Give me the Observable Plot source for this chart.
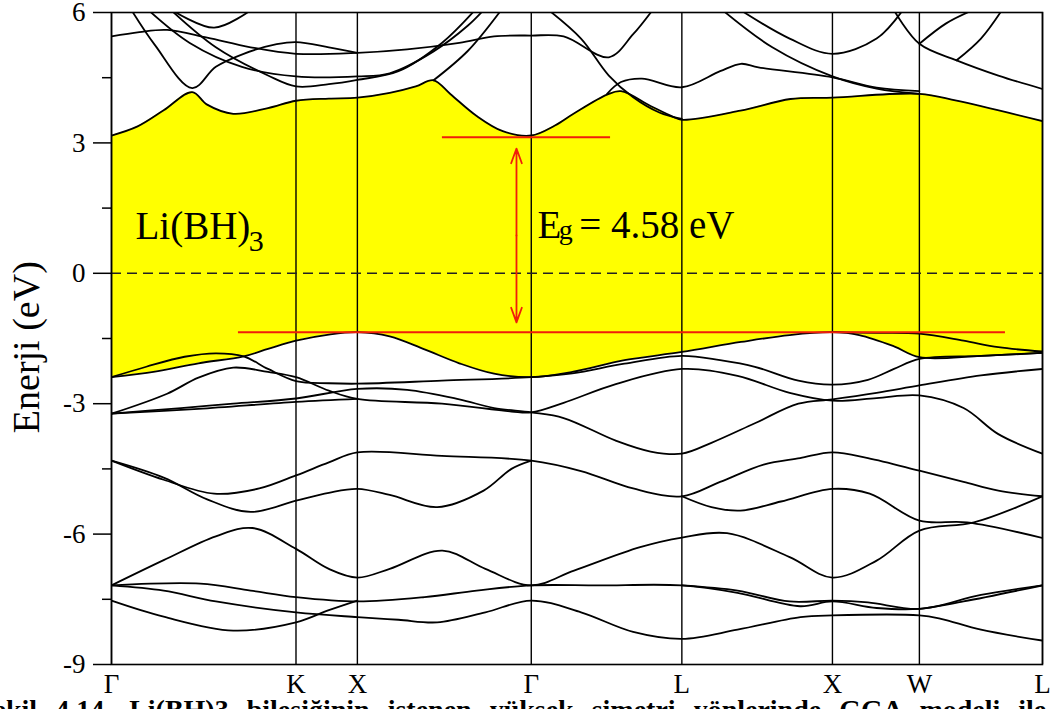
<!DOCTYPE html>
<html><head><meta charset="utf-8">
<script src="https://cdn.jsdelivr.net/npm/d3@7"></script>
<script src="https://cdn.jsdelivr.net/npm/@observablehq/plot@0.6"></script>
<style>
html,body{margin:0;padding:0;background:#fff;overflow:hidden;width:1058px;height:709px}
#chart{position:relative;width:1058px;height:709px}
#chart svg, #chart svg text{font-family:"Liberation Serif","Times New Roman",serif !important}
#caption{position:absolute;left:-22px;top:696px;white-space:nowrap;font:bold 28px "Liberation Serif",serif;line-height:1;word-spacing:11px}
</style></head><body><div id="chart"></div>
<script>
// high-symmetry points along the k path (units of 2π/a)
const kPoints = [0, 1.061, 1.414, 2.414, 3.280, 4.146, 4.646, 5.354];
const kLabels = ["Γ","K","X","Γ","L","X","W","L"];
const yTicks = [-9, -6, -3, 0, 3, 6];
const yMinor = [-7.5, -4.5, -1.5, 1.5, 4.5];

// valence bands [k, E(eV)]
const vb1 = [[0,-2.39],[0.25,-2.26],[0.5,-2.07],[0.76,-1.91],[0.9,-1.74],[1.061,-1.55],[1.25,-1.41],[1.414,-1.355],[1.6,-1.45],[1.8,-1.75],[2.0,-2.07],[2.2,-2.31],[2.414,-2.39],[2.65,-2.27],[2.95,-2.0],[3.28,-1.81],[3.62,-1.58],[3.9,-1.42],[4.146,-1.355],[4.3,-1.42],[4.5,-1.68],[4.646,-1.93],[5.0,-1.9],[5.354,-1.83]];
const vb2 = [[0,-2.39],[0.2,-2.15],[0.42,-1.92],[0.6,-1.84],[0.76,-1.91],[0.9,-2.2],[1.061,-2.48],[1.25,-2.53],[1.414,-2.54],[1.9,-2.47],[2.414,-2.39],[2.65,-2.3],[2.95,-2.08],[3.28,-1.9],[3.5,-2.0],[3.7,-2.15],[3.95,-2.47],[4.146,-2.56],[4.35,-2.45],[4.5,-2.2],[4.646,-1.97],[5.0,-1.9],[5.354,-1.83]];
const vb3 = [[4.146,-1.355],[4.4,-1.37],[4.646,-1.39],[4.9,-1.55],[5.1,-1.7],[5.354,-1.8]];
const vb4 = [[0,-3.23],[0.32,-2.77],[0.5,-2.4],[0.7,-2.17],[0.9,-2.27],[1.061,-2.39],[1.25,-2.7],[1.414,-2.89],[1.9,-3.0],[2.3,-3.18],[2.414,-3.2],[2.6,-2.98],[2.9,-2.55],[3.28,-2.2],[3.6,-2.36],[3.9,-2.75],[4.146,-2.93],[4.4,-2.87],[4.646,-2.81],[4.9,-3.1],[5.1,-3.7],[5.354,-4.15]];
const vb5 = [[0,-3.23],[0.4,-3.1],[0.7,-3.0],[1.061,-2.88],[1.414,-2.66],[1.7,-2.68],[2.0,-2.9],[2.2,-3.1],[2.414,-3.2],[2.6,-3.33],[2.9,-3.85],[3.1,-4.1],[3.28,-4.15],[3.45,-3.9],[3.7,-3.45],[3.95,-3.0],[4.146,-2.9],[4.4,-2.75],[4.646,-2.58],[5.0,-2.35],[5.354,-2.2]];
const vb6 = [[0,-3.23],[0.5,-3.12],[1.061,-2.96],[1.414,-2.89]];
const vb7 = [[0,-4.31],[0.3,-4.75],[0.59,-5.07],[0.85,-4.95],[1.061,-4.65],[1.25,-4.35],[1.414,-4.12],[1.9,-4.2],[2.414,-4.31],[2.7,-4.55],[3.0,-4.95],[3.28,-5.13],[3.5,-4.8],[3.75,-4.4],[3.96,-4.25],[4.146,-4.12],[4.35,-4.25],[4.646,-4.54],[4.9,-4.8],[5.1,-5.0],[5.354,-5.13]];
const vb8 = [[0,-4.31],[0.3,-4.7],[0.55,-5.2],[0.8,-5.49],[1.061,-5.23],[1.25,-5.05],[1.414,-4.96],[1.6,-5.1],[1.873,-5.38],[2.14,-5.0],[2.3,-4.5],[2.414,-4.31]];
const vb8b = [[3.28,-5.13],[3.45,-5.38],[3.617,-5.46],[3.85,-5.25],[4.146,-4.96],[4.36,-5.07],[4.646,-5.69],[4.92,-5.73],[5.354,-6.09]];
const vb9 = [[0,-7.18],[0.3,-6.6],[0.6,-6.05],[0.81,-5.86],[1.061,-6.34],[1.25,-6.8],[1.414,-7.0],[1.6,-6.8],[1.903,-6.38],[2.15,-6.8],[2.414,-7.18],[2.66,-6.84],[3.04,-6.3],[3.28,-6.08],[3.54,-5.98],[3.9,-6.53],[4.146,-7.0],[4.4,-6.61],[4.646,-5.92],[4.96,-5.73],[5.354,-5.13]];
const vb10 = [[0,-7.18],[0.51,-7.14],[0.8,-7.3],[1.061,-7.45],[1.414,-7.55],[1.8,-7.45],[2.1,-7.3],[2.414,-7.18],[2.8,-7.18],[3.28,-7.18],[3.6,-7.35],[3.96,-7.66],[4.146,-7.55],[4.4,-7.7],[4.646,-7.72],[4.9,-7.55],[5.354,-7.18]];
const vb11 = [[0,-7.18],[0.3,-7.3],[0.6,-7.55],[1.061,-7.8],[1.414,-7.91],[1.65,-7.97],[1.873,-8.03],[2.15,-7.8],[2.414,-7.53],[2.7,-7.8],[3.0,-8.25],[3.28,-8.41],[3.6,-8.2],[3.962,-7.91],[4.146,-7.87],[4.646,-7.87],[4.77,-7.95],[5.0,-8.2],[5.354,-8.45]];
const vb12 = [[0,-7.53],[0.3,-7.9],[0.7,-8.22],[1.061,-8.03],[1.25,-7.75],[1.414,-7.53]];
const vb13 = [[3.28,-7.18],[3.6,-7.3],[3.9,-7.55],[4.146,-7.53],[4.35,-7.57],[4.646,-7.72],[5.0,-7.4],[5.354,-7.18]];

// conduction bands [k, E(eV)]
const cb1 = [[0,3.17],[0.15,3.38],[0.3,3.75],[0.464,4.17],[0.55,3.88],[0.70,3.67],[0.9,3.8],[1.061,3.97],[1.25,4.02],[1.414,4.04],[1.6,4.15],[1.75,4.3],[1.852,4.44],[1.95,4.12],[2.1,3.62],[2.25,3.27],[2.414,3.17],[2.55,3.4],[2.657,3.67],[2.85,4.11],[2.93,4.19],[3.1,3.85],[3.23,3.6],[3.28,3.53],[3.617,3.74],[3.905,4.01],[4.146,4.04],[4.646,4.13],[4.86,3.97],[5.354,3.5]];
const cb2 = [[0.1,6.15],[0.25,5.25],[0.464,4.26],[0.6,4.75],[0.76,5.05],[0.95,5.27],[1.061,5.32],[1.25,5.2],[1.414,5.07]];
const cb3 = [[0,5.45],[0.16,5.55],[0.32,5.6],[0.55,5.42],[0.8,5.2],[1.061,5.05],[1.414,5.07],[1.7,5.15],[2.0,5.3],[2.2,5.45],[2.414,5.47],[2.6,5.45],[2.86,4.97],[3.0,5.5],[3.12,6.1]];
const cb4 = [[0.2,6.1],[0.45,5.3],[0.75,4.75],[1.061,4.53],[1.414,4.53],[1.6,4.6],[1.85,5.1],[2.05,5.7],[2.15,6.1]];
const cb5 = [[0.33,6.1],[0.6,5.2],[0.9,4.55],[1.061,4.30],[1.25,4.35],[1.414,4.45],[1.65,4.65],[1.9,5.3],[2.1,6.1]];
const cb6 = [[1.852,4.44],[2.05,5.12],[2.24,6.05]];
const cb7 = [[0.35,6.05],[0.59,5.65],[0.8,6.05]];
const cb8 = [[2.5,6.1],[2.7,5.4],[2.86,4.55],[3.0,4.05],[3.15,3.7],[3.28,3.55]];
const cb9 = [[2.85,4.13],[2.93,4.4],[3.05,4.48],[3.28,4.28],[3.5,4.65],[3.62,4.82],[3.72,4.74],[4.146,4.51],[4.4,4.27],[4.646,4.19]];
const cb10 = [[3.5,6.1],[3.8,5.2],[4.146,4.53],[4.4,4.25],[4.646,4.13]];
const cb11 = [[3.6,6.1],[3.9,5.4],[4.146,5.05],[4.4,5.4],[4.55,6.05]];
const cb12 = [[4.5,6.05],[4.646,5.28],[4.86,4.9],[5.1,4.55],[5.354,4.24]];
const cb13 = [[4.86,4.9],[5.0,5.4],[5.12,6.05]];
const cb14 = [[4.646,5.28],[4.8,5.75],[4.95,6.05]];

const bands = [vb1,vb2,vb3,vb4,vb5,vb6,vb7,vb8,vb8b,vb9,vb10,vb11,vb12,vb13,cb1,cb2,cb3,cb4,cb5,cb6,cb7,cb8,cb9,cb10,cb11,cb12,cb13,cb14];

// gap annotation
const cbmLevel = 3.13, vbmLevel = -1.355;
const cbmSpan = [1.903, 2.87], vbmSpan = [0.73, 5.141];
const gapArrowK = 2.329, gapArrowEnds = [2.87, -1.13];
const materialName = "Li(BH)", materialSub = "3";
const gapSymbol = "E", gapSub = "g", gapValue = "= 4.58 eV";
const yTitle = "Enerji (eV)";
const captionText = "Şekil 4.14. Li(BH)3 bileşiğinin istenen yüksek simetri yönlerinde GGA modeli ile hesaplanan elektronik bant yapısı";

const rows = b => b.map(([k, e]) => ({k, e}));
const bandRows = bands.flatMap((b, i) => b.map(([k, e]) => ({k, e, band: i})));
const labelOf = new Map(kPoints.map((k, i) => [k, kLabels[i]]));
const red = "#f01e0a";
const serif = '"Liberation Serif", "Times New Roman", serif';
const mid = (gapArrowEnds[0] + gapArrowEnds[1]) / 2;

const chart = Plot.plot({
  width: 1058, height: 694,
  marginLeft: 111, marginRight: 16, marginTop: 12, marginBottom: 30,
  style: {fontFamily: serif, fontSize: "27px", background: "white", color: "black", overflow: "visible"},
  x: {domain: [0, 5.354]},
  y: {domain: [-9, 6]},
  marks: [
    Plot.areaY(rows(cb1), {x: "k", y1: () => -9, y2: "e", fill: "#ffff00", curve: "catmull-rom"}),
    Plot.areaY(rows(vb1), {x: "k", y1: () => -9, y2: "e", fill: "white", curve: "catmull-rom"}),
    Plot.ruleX(kPoints, {stroke: "black", strokeWidth: 1.4}),
    Plot.ruleY([0], {stroke: "#222", strokeWidth: 1.6, strokeDasharray: "10,6"}),
    Plot.line(bandRows, {x: "k", y: "e", z: "band", stroke: "black", strokeWidth: 1.8, curve: "catmull-rom", clip: true}),
    Plot.ruleY([cbmLevel], {x1: cbmSpan[0], x2: cbmSpan[1], stroke: red, strokeWidth: 2}),
    Plot.ruleY([vbmLevel], {x1: vbmSpan[0], x2: vbmSpan[1], stroke: red, strokeWidth: 2}),
    Plot.arrow([{y1: mid, y2: gapArrowEnds[0]}, {y1: mid, y2: gapArrowEnds[1]}],
      {x: () => gapArrowK, y1: "y1", y2: "y2", stroke: red, strokeWidth: 1.8, headLength: 13, headAngle: 40}),
    Plot.text([materialName], {x: () => 0.138, y: () => 0.98, text: d => d, textAnchor: "start", lineAnchor: "bottom", fontSize: 39, fontFamily: serif, dy: 8}),
    Plot.text([materialSub], {x: () => 0.79, y: () => 0.66, text: d => d, textAnchor: "start", lineAnchor: "bottom", fontSize: 30, fontFamily: serif, dy: 6}),
    Plot.text([gapSymbol], {x: () => 2.45, y: () => 0.985, text: d => d, textAnchor: "start", lineAnchor: "bottom", fontSize: 39, fontFamily: serif, dy: 8}),
    Plot.text([gapSub], {x: () => 2.572, y: () => 0.92, text: d => d, textAnchor: "start", lineAnchor: "bottom", fontSize: 28, fontFamily: serif, dy: 6}),
    Plot.text([gapValue], {x: () => 2.69, y: () => 0.985, text: d => d, textAnchor: "start", lineAnchor: "bottom", fontSize: 39, fontFamily: serif, dy: 8}),
    Plot.text([{t: yTitle, e: -1.7}], {y: "e", text: "t", frameAnchor: "left", rotate: -90, dx: -85, fontSize: 38, fontFamily: serif, textAnchor: "middle"}),
    Plot.axisY(yTicks, {tickSize: 18, tickPadding: 8, tickFormat: d => String(d), label: null, strokeWidth: 1.5, fontSize: 27, fontFamily: serif}),
    Plot.axisY(yMinor, {tickSize: 9, tickFormat: () => "", label: null, strokeWidth: 1.5}),
    Plot.axisX(kPoints, {tickSize: 0, tickPadding: 9, tickFormat: d => labelOf.get(d), label: null, fontSize: 27, fontFamily: serif}),
    Plot.frame({stroke: "black", strokeWidth: 1.6})
  ]
});
const root = document.getElementById("chart");
root.appendChild(chart);
const cap = document.createElement("div");
cap.id = "caption";
cap.textContent = captionText;
root.appendChild(cap);
</script></body></html>
